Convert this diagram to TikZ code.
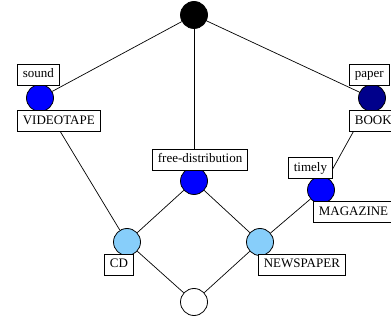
\documentclass[tikz,border=0pt]{standalone}
\usepackage{fontspec}
\setmainfont{Liberation Serif}
\definecolor{attrblue}{RGB}{0,0,255}
\definecolor{attrnavy}{RGB}{0,0,139}
\definecolor{objlight}{RGB}{135,206,250}
\begin{document}
\begin{tikzpicture}[x=1pt,y=-1pt,
  concept/.style={circle,draw=black,line width=0.8pt,minimum size=27pt,inner sep=0pt},
  lbl/.style={draw=black,fill=white,line width=0.7pt,font=\fontsize{13}{13}\selectfont,
    inner xsep=5.5pt,inner ysep=0pt,minimum height=21pt,text height=9pt,text depth=2.5pt},
  edge/.style={line width=0.7pt}]
\useasboundingbox (0,0) rectangle (391,323);
% lattice elements
\node[concept,fill=black]     (top)  at (194,15)  {};
\node[concept,fill=attrblue]  (vid)  at (40,98)   {};
\node[concept,fill=attrnavy]  (book) at (372,98)  {};
\node[concept,fill=attrblue]  (free) at (194,181) {};
\node[concept,fill=attrblue]  (mag)  at (321,190) {};
\node[concept,fill=objlight]  (cd)   at (127,242) {};
\node[concept,fill=objlight]  (news) at (260,242) {};
\node[concept,fill=white]     (bot)  at (194,302) {};
% cover relations
\draw[edge] (top) -- (vid);
\draw[edge] (top) -- (free);
\draw[edge] (top) -- (book);
\draw[edge] (vid) -- (cd);
\draw[edge] (book) -- (mag);
\draw[edge] (free) -- (cd);
\draw[edge] (free) -- (news);
\draw[edge] (mag) -- (news);
\draw[edge] (cd) -- (bot);
\draw[edge] (news) -- (bot);
% attribute and object labels
\node[lbl,anchor=west] (lsound) at (17,74.5)  {sound};
\node[lbl,anchor=west] (lvid)   at (17,121)   {VIDEOTAPE};
\node[lbl,anchor=west] (lpaper) at (349,74.5) {paper};
\node[lbl,anchor=west] (lbook)  at (349,121)  {BOOK};
\node[lbl,anchor=west] (lfree)  at (152,159.5){free-distribution};
\node[lbl,anchor=west] (ltime)  at (288,168)  {timely};
\node[lbl,anchor=west] (lmag)   at (313,212)  {MAGAZINE};
\node[lbl,anchor=west] (lcd)    at (104,264.5){CD};
\node[lbl,anchor=west] (lnews)  at (258,264.5){NEWSPAPER};
\end{tikzpicture}
\end{document}
